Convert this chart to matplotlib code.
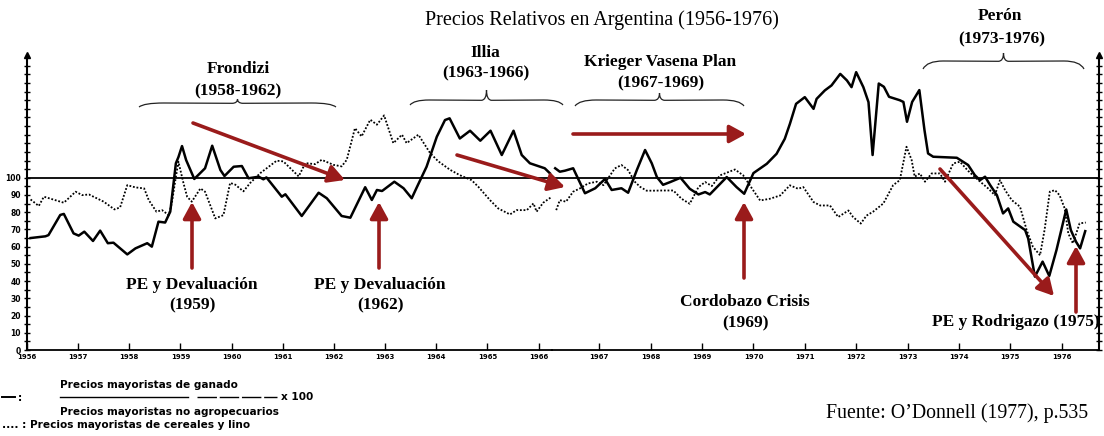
import matplotlib
matplotlib.use("Agg")
import matplotlib.pyplot as plt
from matplotlib.path import Path
from matplotlib.patches import PathPatch, FancyArrowPatch
import numpy as np

# ---------------- data ----------------
# Panel 1 (1956-1966)
years_ganado_p1 = [1956.07, 1956.36, 1956.42, 1956.65, 1956.72, 1956.91, 1957.01, 1957.12, 1957.29,
                   1957.43, 1957.58, 1957.69, 1957.96, 1958.12, 1958.35, 1958.44, 1958.57, 1958.70,
                   1958.80, 1958.91, 1958.96, 1959.03, 1959.11, 1959.27, 1959.48, 1959.62, 1959.78,
                   1959.86, 1960.04, 1960.20, 1960.33, 1960.53, 1960.62, 1960.68, 1960.98, 1961.05,
                   1961.37, 1961.70, 1961.86, 1962.15, 1962.32, 1962.61, 1962.74, 1962.84, 1962.94,
                   1963.18, 1963.36, 1963.52, 1963.62, 1963.81, 1964.01, 1964.17, 1964.26, 1964.46,
                   1964.66, 1964.86, 1965.06, 1965.28, 1965.51, 1965.67, 1965.83, 1965.99, 1966.12,
                   1966.22]
ganado_p1 = [65, 66, 66.7, 78.4, 79, 67.7, 66.4, 68.7, 63.3,
             69.3, 62, 62.3, 55.5, 59, 62, 60, 74.5, 74,
             80.3, 108.4, 112, 118.4, 110.3, 99.3, 105.5, 118.6, 104.5,
             101, 106.4, 106.8, 99.7, 100.6, 99.1, 100.2, 89, 90.4,
             77.8, 91.3, 88.1, 77.8, 76.8, 94.5, 87.1, 92.9, 92.3,
             97.7, 93.9, 88.1, 94.5, 106.4, 123.8, 133.5, 134.5, 122.8,
             127.3, 121.5, 127.3, 113.2, 127.3, 113.2, 108.4, 106.8, 105.5,
             102.6]

years_cereales_p1 = [1956.07, 1956.23, 1956.33, 1956.72, 1956.95, 1957.08, 1957.21, 1957.50, 1957.71,
                     1957.82, 1957.96, 1958.12, 1958.29, 1958.38, 1958.53, 1958.64, 1958.77, 1958.83,
                     1958.90, 1958.96, 1959.06, 1959.13, 1959.22, 1959.39, 1959.48, 1959.68, 1959.84,
                     1959.97, 1960.07, 1960.23, 1960.36, 1960.56, 1960.88, 1961.01, 1961.31, 1961.44,
                     1961.63, 1961.76, 1961.99, 1962.15, 1962.25, 1962.41, 1962.54, 1962.71, 1962.84,
                     1962.98, 1963.16, 1963.33, 1963.42, 1963.65, 1963.88, 1964.04, 1964.27, 1964.46,
                     1964.69, 1964.82, 1965.05, 1965.21, 1965.44, 1965.57, 1965.77, 1965.90, 1965.96,
                     1966.09, 1966.24]
cereales_p1 = [87.4, 83.6, 89, 85.5, 91.9, 89.9, 90.3, 86.1, 81.6,
               82.8, 95.7, 94.4, 93.8, 87, 80.3, 81.2, 78.3, 85.1,
               98.6, 109.3, 96.7, 89, 86.1, 93.8, 91.9, 76.4, 78.3,
               97, 96, 92.1, 96.9, 102.7, 109.9, 109.5, 100.8, 108.5,
               107.9, 110.4, 107.5, 106.6, 110.4, 128.8, 124, 133.7, 130.8,
               136.2, 120.1, 125, 120.1, 125, 114.3, 109.5, 104.6, 101.5,
               98.6, 94.8, 87, 82.2, 78.7, 81.2, 81.2, 85.1, 80.3,
               85.5, 88.6]

# Panel 2 (1966-1976)
years_ganado_p2 = [1966.14, 1966.23, 1966.33, 1966.49, 1966.72, 1966.92, 1967.11, 1967.24, 1967.43,
                   1967.56, 1967.73, 1967.89, 1968.02, 1968.12, 1968.24, 1968.38, 1968.58, 1968.76,
                   1968.93, 1969.06, 1969.15, 1969.48, 1969.67, 1969.82, 1970.00, 1970.26, 1970.45,
                   1970.61, 1970.71, 1970.83, 1971.00, 1971.17, 1971.23, 1971.39, 1971.52, 1971.69,
                   1971.82, 1971.91, 1972.00, 1972.14, 1972.24, 1972.32, 1972.44, 1972.54, 1972.64,
                   1972.85, 1972.92, 1972.99, 1973.09, 1973.23, 1973.33, 1973.40, 1973.50, 1973.96,
                   1974.18, 1974.31, 1974.41, 1974.51, 1974.61, 1974.74, 1974.86, 1974.96, 1975.06,
                   1975.29, 1975.35, 1975.48, 1975.63, 1975.76, 1975.90, 1976.09, 1976.18, 1976.28,
                   1976.36, 1976.46]
ganado_p2 = [105.5, 103.5, 104.1, 105.5, 91, 93.9, 99.3, 92.9, 93.9,
             91.3, 104.5, 116.1, 108.4, 100.4, 95.9, 97.5, 100, 93.6,
             90.3, 91.7, 90.3, 100.4, 94.6, 90.7, 102.7, 108.1, 113.9,
             122.6, 131.3, 142.9, 146.8, 140, 145.8, 150.7, 153.6, 160.3,
             156.5, 152.6, 161.3, 152.6, 143.9, 113.2, 154.7, 152.8, 147,
             145, 144, 132.5, 144, 150.9, 127.7, 114.1, 112.2, 111.6,
             107.4, 101.5, 98.6, 100.6, 95.7, 89.9, 79.3, 82.2, 74.5,
             69.6, 64.7, 42.6, 51.3, 43, 58, 81.6, 69.6, 62.9,
             59, 69]

years_cereales_p2 = [1966.16, 1966.23, 1966.35, 1966.49, 1966.62, 1966.78, 1966.95, 1967.08, 1967.30,
                     1967.43, 1967.56, 1967.69, 1967.79, 1967.92, 1968.05, 1968.24, 1968.44, 1968.60,
                     1968.76, 1968.93, 1969.06, 1969.19, 1969.35, 1969.64, 1969.80, 1969.93, 1970.13,
                     1970.32, 1970.52, 1970.71, 1970.87, 1970.97, 1971.17, 1971.30, 1971.49, 1971.65,
                     1971.85, 1971.94, 1972.09, 1972.20, 1972.33, 1972.53, 1972.72, 1972.85, 1972.98,
                     1973.08, 1973.14, 1973.24, 1973.34, 1973.47, 1973.63, 1973.73, 1973.83, 1973.89,
                     1974.02, 1974.18, 1974.38, 1974.57, 1974.70, 1974.80, 1974.90, 1975.03, 1975.19,
                     1975.32, 1975.44, 1975.58, 1975.67, 1975.77, 1975.87, 1975.96, 1976.06, 1976.13,
                     1976.22, 1976.35, 1976.47]
cereales_p2 = [81.2, 87, 86.1, 91.9, 93.8, 96.7, 97.7, 95.7, 105.4,
               107.4, 104.4, 97.7, 94.8, 92.5, 92.5, 92.6, 92.6, 87.8,
               84.9, 94.6, 97.5, 95.2, 101.4, 104.8, 101.4, 95.6, 86.8,
               87.8, 89.7, 95.6, 93.6, 94.6, 85.9, 83.9, 83.9, 77.2,
               81, 77.2, 73.4, 78, 80.3, 85.1, 95.7, 98.6, 118,
               110.3, 100.6, 102.5, 97.7, 102.5, 102.5, 97.7, 104.4, 108.3,
               109.3, 104, 98.6, 93.8, 89.9, 98.6, 92.8, 87, 83.2,
               69.6, 60, 55, 70, 91.9, 92.8, 89.9, 82.2, 67.7,
               61.9, 73.5, 74]

xticks_p1 = list(range(1956, 1967))
xticks_p2 = list(range(1967, 1977))
yticks = list(range(0, 170, 5))
ytick_labels = [str(v) if (v % 10 == 0 and v <= 100) else "" for v in yticks]

# ---------------- layout helpers ----------------
W, H = 1104, 436
RED = "#9a1b1b"


def P(x, y):
    """pixel position (origin top-left) -> figure fraction"""
    return (x / W, 1 - y / H)


fig = plt.figure(figsize=(W / 100, H / 100), dpi=100)
fig.patch.set_facecolor("white")

bottom_px, top_px = 350, 55
left_px, split_px, right_px = 27, 552, 1098.5
b = 1 - bottom_px / H
h = (bottom_px - top_px) / H
ax1 = fig.add_axes([left_px / W, b, (split_px - left_px) / W, h])
ax2 = fig.add_axes([split_px / W, b, (right_px - split_px) / W, h])

ylim = (0, (bottom_px - top_px) / 1.7225)
ax1.set_xlim(1956.0, 1956 + (split_px - 26.6) / 51.2)
ax2.set_xlim(1966 + (split_px - 548) / 51.36, 1966 + (right_px - 548) / 51.36)

for ax in (ax1, ax2):
    ax.set_ylim(*ylim)
    ax.set_facecolor("none")
    ax.spines["top"].set_visible(False)
    ax.spines["bottom"].set_linewidth(1.3)
    ax.axhline(100, color="black", lw=1.3, zorder=1)
    ax.set_yticks(yticks)
    ax.tick_params(axis="x", direction="in", length=5, width=1.0, pad=3,
                   labelsize=5, colors="black")
    ax.tick_params(axis="y", direction="inout", length=5, width=1.0, pad=2,
                   labelsize=5.5)

ax1.spines["right"].set_visible(False)
ax1.spines["left"].set_linewidth(1.5)
ax2.spines["left"].set_visible(False)
ax2.spines["right"].set_linewidth(1.5)
ax2.yaxis.tick_right()
ax1.set_yticklabels(ytick_labels, fontweight="bold")
ax2.set_yticklabels([""] * len(yticks))
ax1.set_xticks(xticks_p1)
ax1.set_xticklabels([str(t) for t in xticks_p1], fontweight="bold")
ax2.set_xticks(xticks_p2)
ax2.set_xticklabels([str(t) for t in xticks_p2], fontweight="bold")

# arrow heads on the vertical axes
ax1.plot([0], [1], marker="^", color="black", ms=5, transform=ax1.transAxes, clip_on=False)
ax2.plot([1], [1], marker="^", color="black", ms=5, transform=ax2.transAxes, clip_on=False)

# series
ax1.plot(years_ganado_p1, ganado_p1, color="black", lw=1.8, solid_joinstyle="round", zorder=3)
ax1.plot(years_cereales_p1, cereales_p1, color="black", lw=1.3, linestyle=(0, (1, 1)), zorder=3)
ax2.plot(years_ganado_p2, ganado_p2, color="black", lw=1.8, solid_joinstyle="round", zorder=3)
ax2.plot(years_cereales_p2, cereales_p2, color="black", lw=1.3, linestyle=(0, (1, 1)), zorder=3)

# ---------------- annotations ----------------
serif = "Liberation Serif"
fig.text(*P(602, 20), "Precios Relativos en Argentina (1956-1976)", ha="center", va="center",
         family=serif, fontsize=14.5)

labels = [
    ((238, 69), "Frondizi"), ((238, 91), "(1958-1962)"),
    ((485, 53), "Illia"), ((486, 73), "(1963-1966)"),
    ((660, 62), "Krieger Vasena Plan"), ((661, 83), "(1967-1969)"),
    ((1000, 16), "Perón"), ((1002, 39), "(1973-1976)"),
    ((192, 285), "PE y Devaluación"), ((192, 305), "(1959)"),
    ((380, 285), "PE y Devaluación"), ((380, 305), "(1962)"),
    ((745, 302), "Cordobazo Crisis"), ((745, 323), "(1969)"),
    ((1016, 322), "PE y Rodrigazo (1975)"),
]
for (x, y), s in labels:
    fig.text(*P(x, y), s, ha="center", va="center", family=serif, fontweight="bold",
             fontsize=12.5)


def brace(x0, x1, y_end, y_flat, y_tip):
    xc = (x0 + x1) / 2
    d = 0.25
    verts = [
        (x0, y_end), (x0 + (xc - x0) * 0.05, y_flat), (x0 + (xc - x0) * d, y_flat),
        (xc - 5, y_flat + 0.3), (xc, y_flat), (xc, y_tip),
        (xc, y_tip), (xc, y_flat), (xc + 5, y_flat + 0.3),
        (x1 - (x1 - xc) * d, y_flat), (x1 - (x1 - xc) * 0.05, y_flat), (x1, y_end),
    ]
    codes = [Path.MOVETO, Path.CURVE3, Path.CURVE3,
             Path.LINETO, Path.CURVE3, Path.CURVE3,
             Path.MOVETO, Path.CURVE3, Path.CURVE3,
             Path.LINETO, Path.CURVE3, Path.CURVE3]
    path = Path([P(*v) for v in verts], codes)
    fig.add_artist(PathPatch(path, transform=fig.transFigure, fill=False, lw=0.9,
                             edgecolor="#222222"))


brace(139, 336, 107, 103, 99)
brace(410, 563, 105, 100, 90)
brace(575, 744, 106, 100, 93)
brace(923, 1084, 69, 61, 53)

red_arrows = [
    ((193, 123), (345, 180)),
    ((457, 155), (565, 187)),
    ((573, 134), (746, 134)),
    ((940, 169), (1054, 296)),
    ((192, 268), (192, 202)),
    ((379, 268), (379, 202)),
    ((744, 278), (744, 202)),
    ((1076, 312), (1076, 246)),
]
for s, e in red_arrows:
    fig.add_artist(FancyArrowPatch(P(*s), P(*e), transform=fig.transFigure,
                                   arrowstyle="-|>,head_length=0.55,head_width=0.3",
                                   mutation_scale=18, lw=2.6, color=RED,
                                   shrinkA=0, shrinkB=0, zorder=5))

# legend (bottom-left)
lg = dict(family="DejaVu Sans", fontweight="bold", fontsize=7.6, va="center")
fig.text(*P(60, 385), "Precios mayoristas de ganado", ha="left", **lg)
fig.text(*P(60, 411.5), "Precios mayoristas no agropecuarios", ha="left", **lg)
fig.text(*P(2, 425), ".... : Precios mayoristas de cereales y lino", ha="left", **lg)
fig.text(*P(18, 398), ":", ha="left", **lg)
fig.text(*P(281, 396.5), "x 100", ha="left", **lg)
fig.add_artist(plt.Line2D(*zip(P(2, 397), P(15, 397)), transform=fig.transFigure,
                          color="black", lw=1.4))
fig.add_artist(plt.Line2D(*zip(P(60, 397), P(188, 397)), transform=fig.transFigure,
                          color="black", lw=1.0))
fig.add_artist(plt.Line2D(*zip(P(197, 397), P(277, 397)), transform=fig.transFigure,
                          color="black", lw=1.0, linestyle=(0, (14, 2))))

fig.text(*P(826, 413), "Fuente: O\u2019Donnell (1977), p.535", ha="left", va="center",
         family=serif, fontsize=14.3)

fig.savefig("out.png", dpi=100, facecolor="white")
